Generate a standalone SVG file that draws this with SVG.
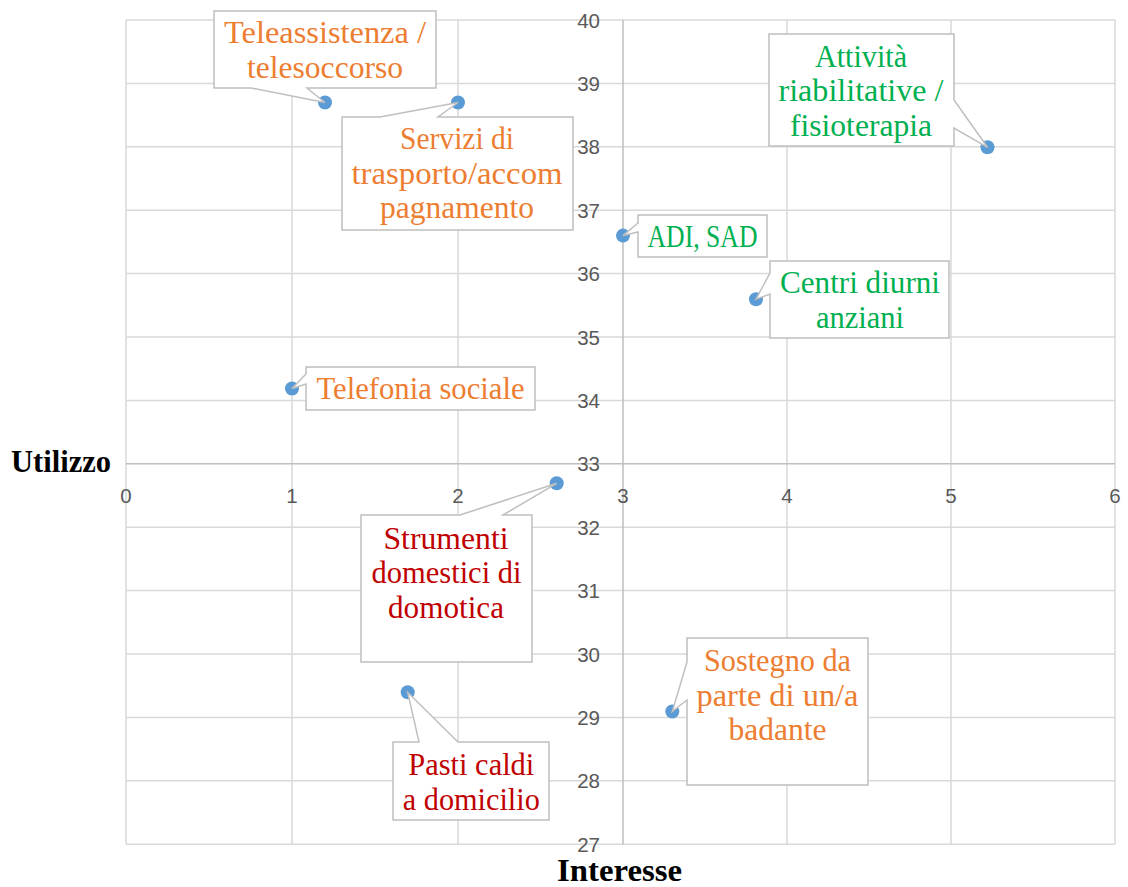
<svg xmlns="http://www.w3.org/2000/svg" width="1128" height="887" viewBox="0 0 1128 887">
<style>
.grid{stroke:#d9d9d9;stroke-width:1.5;fill:none}
.axis{stroke:#bfbfbf;stroke-width:1.5;fill:none}
.tick{font-family:"Liberation Sans",Arial,sans-serif;font-size:20.5px;fill:#595959}
.ytick{text-anchor:end}
.xtick{text-anchor:middle}
.title{font-family:"Liberation Serif","Times New Roman",serif;font-weight:bold;font-size:31px;fill:#000}
.dot{fill:#5b9bd5}
.call{fill:#fff;stroke:#bfbfbf;stroke-width:1.5}
.lbl{font-family:"Liberation Serif","Times New Roman",serif;font-size:31px;text-anchor:middle}
.orange{fill:#ed7d31}
.green{fill:#00b050}
.red{fill:#c00000}
</style>
<rect width="1128" height="887" fill="#fff"/>
<g id="grid">
<path class="grid" d="M126,20H1115M126,83.4H1115M126,146.8H1115M126,210.2H1115M126,273.6H1115M126,337H1115M126,400.4H1115M126,527.2H1115M126,590.6H1115M126,654H1115M126,717.4H1115M126,780.8H1115M126,844.2H1115"/>
<path class="grid" d="M126,20V844.2M292,20V844.2M458,20V844.2M787,20V844.2M951,20V844.2M1115,20V844.2"/>
<path class="axis" d="M126,463.8H1115M623,20V844.2"/>
</g>
<g id="yticks" class="tick ytick">
<text x="600" y="27.5">40</text>
<text x="600" y="90.9">39</text>
<text x="600" y="154.3">38</text>
<text x="600" y="217.7">37</text>
<text x="600" y="281.1">36</text>
<text x="600" y="344.5">35</text>
<text x="600" y="407.9">34</text>
<text x="600" y="471.3">33</text>
<text x="600" y="534.7">32</text>
<text x="600" y="598.1">31</text>
<text x="600" y="661.5">30</text>
<text x="600" y="724.9">29</text>
<text x="600" y="788.3">28</text>
<text x="600" y="851.5">27</text>
</g>
<g id="xticks" class="tick xtick">
<text x="126" y="502.5">0</text>
<text x="292" y="502.5">1</text>
<text x="458" y="502.5">2</text>
<text x="623" y="502.5">3</text>
<text x="787" y="502.5">4</text>
<text x="951" y="502.5">5</text>
<text x="1115" y="502.5">6</text>
</g>
<g id="axis-titles">
<text class="title" x="11" y="472" textLength="100" lengthAdjust="spacingAndGlyphs">Utilizzo</text>
<text class="title" x="557" y="881" textLength="125" lengthAdjust="spacingAndGlyphs">Interesse</text>
</g>
<g id="points">
<circle class="dot" cx="325" cy="102.5" r="7"/>
<circle class="dot" cx="458" cy="102.5" r="7"/>
<circle class="dot" cx="987.5" cy="147.3" r="7"/>
<circle class="dot" cx="623" cy="235.6" r="7"/>
<circle class="dot" cx="756" cy="299.2" r="7"/>
<circle class="dot" cx="292" cy="388.5" r="7"/>
<circle class="dot" cx="556.7" cy="483.3" r="7"/>
<circle class="dot" cx="407.7" cy="692.3" r="7"/>
<circle class="dot" cx="672.3" cy="711.5" r="7"/>
</g>
<g id="connectors">
<path class="call" d="M214,11H436V88H307L325,102.5L251,88H214Z"/>
<path class="call" d="M342,117H380L458,102.5L438,117H573V230H342Z"/>
<path class="call" d="M769,34H954V100L987.5,147.3L954,128V146H769Z"/>
<path class="call" d="M638,215H767V257H638V232L623,235.6L638,223Z"/>
<path class="call" d="M770,261H949V338H770V294L756,299.2L770,273Z"/>
<path class="call" d="M306,367H535V410H306V384L292,388.5L306,374Z"/>
<path class="call" d="M361,515H460L556.7,483.3L503,515H532V662H361Z"/>
<path class="call" d="M393,742H419L407.7,692.3L458,742H549V820H393Z"/>
<path class="call" d="M687,638H868V785H687V700L672.3,711.5L687,662Z"/>
</g>
<g id="n-teleassistenza" class="lbl orange">
<text x="325" y="43" textLength="202" lengthAdjust="spacingAndGlyphs">Teleassistenza /</text>
<text x="325" y="77.5" textLength="156" lengthAdjust="spacingAndGlyphs">telesoccorso</text>
</g>
<g id="n-servizi" class="lbl orange">
<text x="457" y="149" textLength="114" lengthAdjust="spacingAndGlyphs">Servizi di</text>
<text x="457" y="183.6" textLength="211" lengthAdjust="spacingAndGlyphs">trasporto/accom</text>
<text x="457" y="218.2" textLength="154" lengthAdjust="spacingAndGlyphs">pagnamento</text>
</g>
<g id="n-attivita" class="lbl green">
<text x="861" y="66.5" textLength="92" lengthAdjust="spacingAndGlyphs">Attività</text>
<text x="861" y="101" textLength="165" lengthAdjust="spacingAndGlyphs">riabilitative /</text>
<text x="861" y="135.5" textLength="142" lengthAdjust="spacingAndGlyphs">fisioterapia</text>
</g>
<g id="n-adi" class="lbl green">
<text x="702.5" y="246.5" textLength="110" lengthAdjust="spacingAndGlyphs">ADI, SAD</text>
</g>
<g id="n-centri" class="lbl green">
<text x="860" y="292.5" textLength="160" lengthAdjust="spacingAndGlyphs">Centri diurni</text>
<text x="860" y="327.5" textLength="88" lengthAdjust="spacingAndGlyphs">anziani</text>
</g>
<g id="n-telefonia" class="lbl orange">
<text x="420.5" y="398.5" textLength="208" lengthAdjust="spacingAndGlyphs">Telefonia sociale</text>
</g>
<g id="n-strumenti" class="lbl red">
<text x="446" y="548.5" textLength="125" lengthAdjust="spacingAndGlyphs">Strumenti</text>
<text x="446.5" y="583" textLength="150" lengthAdjust="spacingAndGlyphs">domestici di</text>
<text x="446" y="617.5" textLength="116" lengthAdjust="spacingAndGlyphs">domotica</text>
</g>
<g id="n-pasti" class="lbl red">
<text x="471.3" y="775" textLength="126" lengthAdjust="spacingAndGlyphs">Pasti caldi</text>
<text x="471.3" y="810" textLength="137" lengthAdjust="spacingAndGlyphs">a domicilio</text>
</g>
<g id="n-sostegno" class="lbl orange">
<text x="777.5" y="671" textLength="147" lengthAdjust="spacingAndGlyphs">Sostegno da</text>
<text x="777.5" y="705.5" textLength="162" lengthAdjust="spacingAndGlyphs">parte di un/a</text>
<text x="777.5" y="740" textLength="98" lengthAdjust="spacingAndGlyphs">badante</text>
</g>
</svg>
